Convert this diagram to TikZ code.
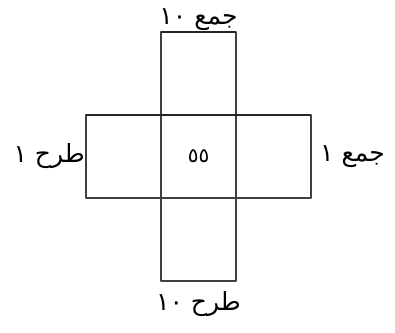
\documentclass[tikz,border=0pt]{standalone}
\usepackage{fontspec}
\newfontfamily\arabicfont[Script=Arabic]{DejaVu Sans}
\TeXXeTstate=1
\usetikzlibrary{positioning}

\begin{document}
\begin{tikzpicture}[x=1pt, y=-1pt, line join=round,
    cell/.style={draw=black!75, line width=1.1pt, minimum width=75pt,
      minimum height=83pt, inner sep=0pt, outer sep=0pt},
    edge/.style={draw=black!85, line width=2pt},
    lbl/.style={font=\arabicfont\fontsize{25}{30}\selectfont, inner sep=0pt}]
    \useasboundingbox (0,0) rectangle (395,332);

    \node[cell, font=\arabicfont\fontsize{20}{24}\selectfont] (mid) at (198.5,156.5) {\beginR ٥٥\endR};
    \node[cell, above=0pt of mid] (top) {};
    \node[cell, below=0pt of mid] (bottom) {};
    \node[cell, left=0pt of mid] (left) {};
    \node[cell, right=0pt of mid] (right) {};

    % heavier top rules
    \draw[edge] (top.north west) -- (top.north east);
    \draw[edge] (left.north west) -- (right.north east);

    \node[lbl, above=1pt of top] (addten) {\beginR جمع \beginL١٠\endL\endR};
    \node[lbl, below=10pt of bottom] (subten) {\beginR طرح \beginL١٠\endL\endR};
    \node[lbl, left=1pt of left] (subone) {\beginR طرح ١\endR};
    \node[lbl, right=9pt of right] (addone) {\beginR جمع ١\endR};
\end{tikzpicture}
\end{document}
